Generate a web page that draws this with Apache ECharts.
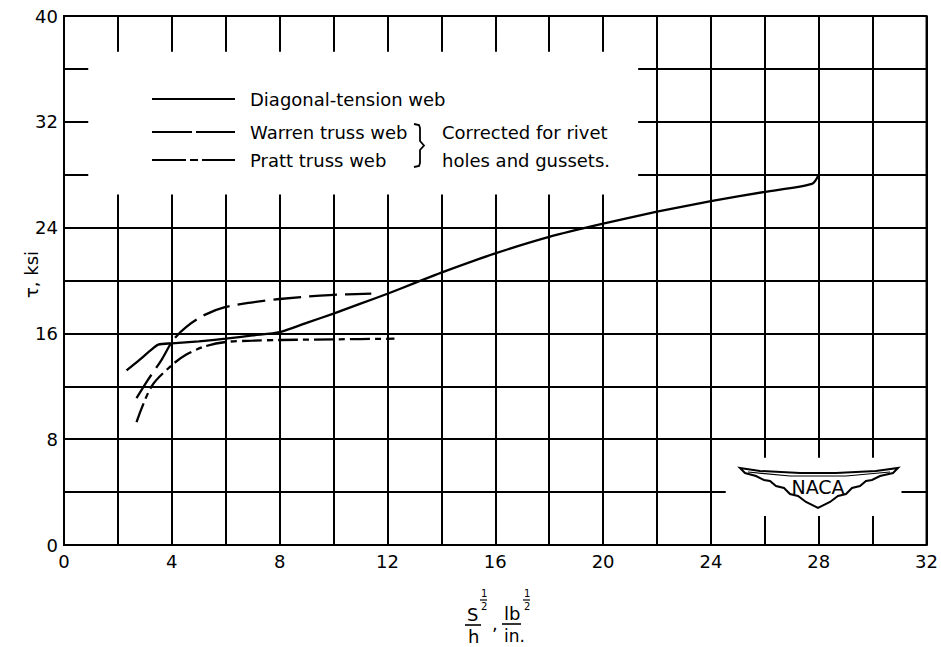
<!DOCTYPE html>
<html><head><meta charset="utf-8">
<script src="https://cdn.jsdelivr.net/npm/echarts@6/dist/echarts.min.js"></script>
<style>html,body{margin:0;padding:0;background:#fff}#c{width:941px;height:647px}</style>
</head><body><div id="c"></div>
<script>
// ---- data ----
const xTickLabels = [0, 4, 8, 12, 16, 20, 24, 28, 32];
const yTickLabels = [0, 8, 16, 24, 32, 40];
const seriesNames = ['Diagonal-tension web', 'Warren truss web', 'Pratt truss web'];
const diagonalTension = [[2.32,13.2],[2.8,14.0],[3.2,14.7],[3.5,15.15],[4,15.25],[5,15.4],[6,15.6],[7,15.85],[8,16.1],[9,16.8],[10,17.5],[11,18.25],[12,19.0],[13,19.8],[14,20.6],[16,22.05],[18,23.3],[20,24.3],[22,25.2],[24,26.0],[26,26.7],[27.75,27.3],[28,28.0]];
const warrenTruss = [[2.69,11.1],[3.12,12.5],[3.62,14.0],[4.05,15.5],[4.54,16.5],[5.22,17.4],[6,18.0],[7,18.35],[8,18.6],[9.85,18.9],[11.4,19.0]];
const prattTruss = [[2.69,9.3],[3.25,12.0],[4,13.6],[4.54,14.4],[5.2,15.0],[6,15.35],[7,15.45],[8,15.5],[10,15.55],[12.26,15.6]];
const legendNote = ['Corrected for rivet', 'holes and gussets.'];
const yAxisTitle = 'τ, ksi';

const F = '"DejaVu Sans", sans-serif';
const chart = echarts.init(document.getElementById('c'), null, {renderer: 'svg'});

const lineStyleBase = {color: '#000', width: 2.3};
const dashWarren = [28, 8];
const dashPratt = [20, 5, 6, 5];

function txt(text, x, y, size, extra) {
  return Object.assign({type: 'text', z: 100, style: {text: text, x: x, y: y, fill: '#000', font: size + 'px ' + F}}, extra || {});
}
function ln(x1, y1, x2, y2, dash, w) {
  return {type: 'line', z: 100, shape: {x1, y1, x2, y2}, style: {stroke: '#000', lineWidth: w || 2, lineDash: dash || null}};
}
function midText(text, x, y) {
  return {type: 'text', z: 100, style: {text: text, x: x, y: y, fill: '#000', font: '18px ' + F, verticalAlign: 'middle'}};
}

const TX = 52; // x-axis title offset
const graphics = [
  // legend
  ln(152, 99, 235, 99),
  ln(152, 132, 235, 132, [40, 4]),
  ln(152, 160, 235, 160, [34, 4, 8, 4]),
  midText(seriesNames[0], 250, 99),
  midText(seriesNames[1], 250, 132),
  midText(seriesNames[2], 250, 160),
  {type: 'polyline', z: 100, shape: {points: [[414,124],[419,125],[420,128],[420,141],[424,145.5],[420,150],[420,163],[419,166],[414,167]]}, style: {stroke: '#000', lineWidth: 1.8, fill: null}},
  midText(legendNote[0], 442, 132),
  midText(legendNote[1], 442, 160),
  // NACA logo
  {type: 'polygon', z: 100, shape: {points: [[740,468],[760,471],[800,473],[836,473],[876,471],[898,468],[893,473],[880,476],[872,480],[866,481],[860,486],[852,488],[846,494],[838,496],[830,502],[818,508],[806,502],[798,496],[790,494],[784,488],[776,486],[770,481],[764,480],[756,476],[745,473]]}, style: {stroke: '#000', lineWidth: 2, fill: '#fff'}},
  {type: 'polyline', z: 100, shape: {points: [[748,472],[790,476],[846,476],[890,472]]}, style: {stroke: '#000', lineWidth: 1.2, fill: null}},
  {type: 'text', z: 101, style: {text: 'NACA', x: 818, y: 487, fill: '#000', font: '19px ' + F, align: 'center', verticalAlign: 'middle'}},
  // x-axis title (fraction form)
  txt('S', 415 + TX, 605, 18),
  txt('1', 429 + TX, 588, 10),
  ln(428 + TX, 600, 435 + TX, 600, null, 1.2),
  txt('2', 429 + TX, 601, 10),
  ln(413 + TX, 625, 429 + TX, 625, null, 1.6),
  txt('h', 416 + TX, 627, 18),
  txt(',', 440 + TX, 614, 18),
  txt('lb', 452 + TX, 604, 18),
  txt('1', 472 + TX, 588, 10),
  ln(471 + TX, 600, 478 + TX, 600, null, 1.2),
  txt('2', 472 + TX, 601, 10),
  ln(450 + TX, 624, 469 + TX, 624, null, 1.6),
  txt('in.', 452 + TX, 627, 17)
];

chart.setOption({
  animation: false,
  backgroundColor: '#fff',
  grid: {left: 64, right: 13, top: 16, bottom: 102, show: true, borderColor: '#000', borderWidth: 2, backgroundColor: 'transparent'},
  xAxis: {
    type: 'value', min: 0, max: 32, interval: 2,
    axisLine: {show: true, lineStyle: {color: '#000', width: 2}},
    axisTick: {show: false},
    axisLabel: {color: '#000', fontSize: 18, fontFamily: F, margin: 7,
      formatter: v => xTickLabels.indexOf(v) >= 0 ? String(v) : ''},
    splitLine: {show: true, lineStyle: {color: '#000', width: 2}}
  },
  yAxis: {
    type: 'value', min: 0, max: 40, interval: 4,
    name: yAxisTitle, nameLocation: 'middle', nameGap: 24, nameRotate: 90, nameMoveOverlap: false,
    nameTextStyle: {color: '#000', fontSize: 18, fontFamily: F, padding: [0, 0, 0, 12]},
    axisLine: {show: true, lineStyle: {color: '#000', width: 2}},
    axisTick: {show: false},
    axisLabel: {color: '#000', fontSize: 18, fontFamily: F, margin: 6,
      formatter: v => yTickLabels.indexOf(v) >= 0 ? String(v) : ''},
    splitLine: {show: true, lineStyle: {color: '#000', width: 2}}
  },
  series: [
    {name: seriesNames[0], type: 'line', data: diagonalTension, symbol: 'none', smooth: 0.25,
      lineStyle: Object.assign({}, lineStyleBase),
      markArea: {silent: true, label: {show: false}, itemStyle: {color: '#fff', opacity: 1, borderWidth: 0},
        data: [
          [{xAxis: 0.9, yAxis: 37.3}, {xAxis: 21.3, yAxis: 26.5}],
          [{xAxis: 24.55, yAxis: 6.6}, {xAxis: 31.07, yAxis: 2.2}]
        ]}},
    {name: seriesNames[1], type: 'line', data: warrenTruss, symbol: 'none', smooth: 0.3,
      lineStyle: Object.assign({type: dashWarren}, lineStyleBase)},
    {name: seriesNames[2], type: 'line', data: prattTruss, symbol: 'none', smooth: 0.3,
      lineStyle: Object.assign({type: dashPratt}, lineStyleBase)}
  ],
  graphic: graphics
});
</script></body></html>
